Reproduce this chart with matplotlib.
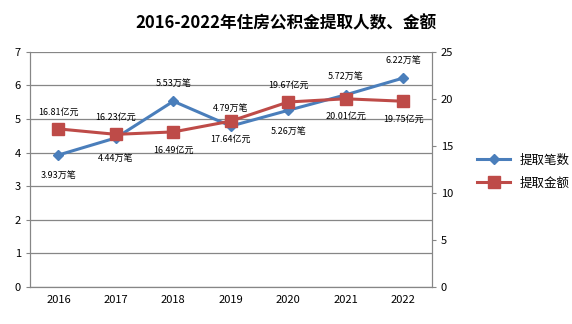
import matplotlib
matplotlib.use("Agg")
import matplotlib.pyplot as plt
import numpy as np

plt.rcParams["font.family"] = ["Noto Sans CJK SC", "DejaVu Sans"]

years = ["2016", "2017", "2018", "2019", "2020", "2021", "2022"]
counts = [3.93, 4.44, 5.53, 4.79, 5.26, 5.72, 6.22]      # 万笔
amounts = [16.81, 16.23, 16.49, 17.64, 19.67, 20.01, 19.75]  # 亿元
count_pos = ["below", "below", "above", "above", "below", "above", "above"]
amount_pos = ["above", "above", "below", "below", "above", "below", "below"]

blue = "#4a7ebb"
red = "#be4b48"
grid = "#868686"

fig = plt.figure(figsize=(5.72, 3.24), dpi=100)
ax = fig.add_axes([0.052, 0.114, 0.703, 0.726])
ax2 = ax.twinx()

x = np.arange(len(years))
ax.plot(x, counts, color=blue, lw=2.2, marker="D", ms=5, zorder=3, label="提取笔数")
ax2.plot(x, amounts, color=red, lw=2.2, marker="s", ms=8, zorder=3, label="提取金额")

ax.set_xlim(-0.5, len(years) - 0.5)
ax.set_ylim(0, 7)
ax2.set_ylim(0, 25)
ax.set_yticks(range(0, 8))
ax2.set_yticks(range(0, 26, 5))
ax.set_xticks(x)
ax.set_xticklabels(years)
ax.yaxis.grid(True, color=grid, lw=0.9)
ax.set_axisbelow(True)

for a in (ax, ax2):
    for s in a.spines.values():
        s.set_color(grid)
    a.spines["top"].set_visible(False)
    a.tick_params(labelsize=8, color=grid, length=3)
ax.tick_params(axis="x", length=0, pad=6)

for xi, v, p in zip(x, counts, count_pos):
    off = 13 if p == "above" else -15
    ax.annotate(f"{v:.2f}万笔", (xi, v), xytext=(0, off), textcoords="offset points",
                ha="center", va="center", fontsize=6.5)
for xi, v, p in zip(x, amounts, amount_pos):
    off = 12 if p == "above" else -13
    ax2.annotate(f"{v:.2f}亿元", (xi, v), xytext=(0, off), textcoords="offset points",
                 ha="center", va="center", fontsize=6.5)

h1, l1 = ax.get_legend_handles_labels()
h2, l2 = ax2.get_legend_handles_labels()
fig.legend(h1 + h2, l1 + l2, loc="center left", bbox_to_anchor=(0.815, 0.47),
           frameon=False, fontsize=9, handlelength=2.6, labelspacing=0.8)

fig.suptitle("2016-2022年住房公积金提取人数、金额", y=0.955, fontsize=12, fontweight="bold")

fig.savefig("out.png", dpi=100)
